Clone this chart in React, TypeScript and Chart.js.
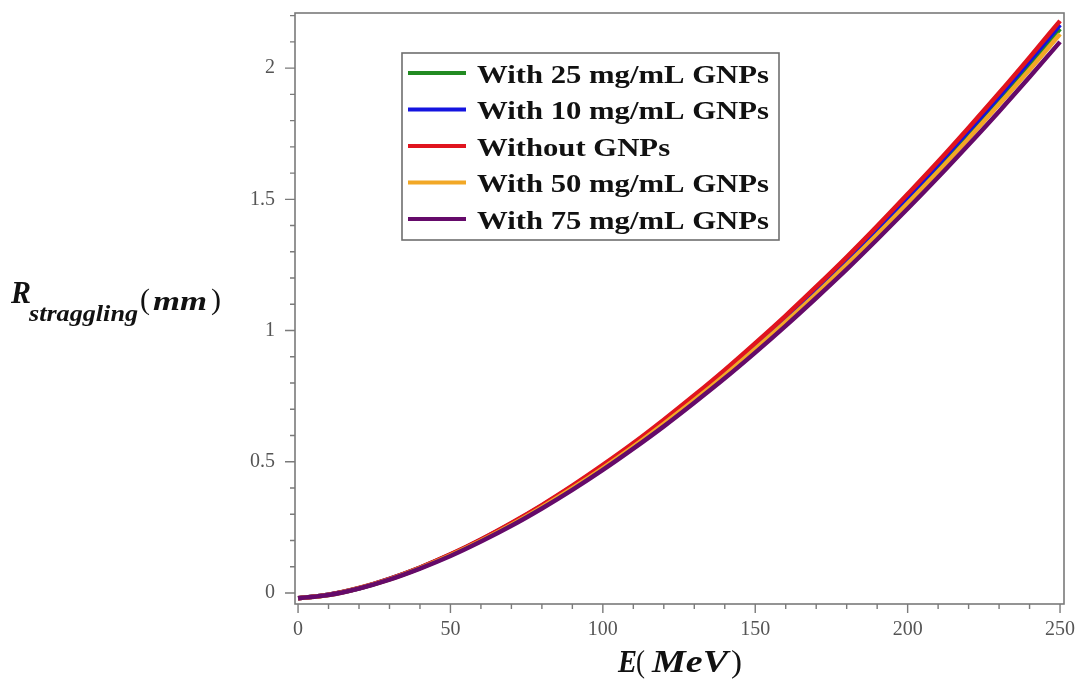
import React, { useEffect, useRef } from 'react';
import { Chart, registerables } from 'chart.js';

Chart.register(...registerables);

// Energy grid (MeV)
const energies = [0, 10, 20, 30, 40, 50, 60, 70, 80, 90, 100, 110, 120, 130, 140, 150, 160, 170, 180, 190, 200, 210, 220, 230, 240, 250];

// R_straggling (mm) for each medium
const with25 = [-0.020, -0.007, 0.018, 0.053, 0.096, 0.145, 0.201, 0.263, 0.330, 0.403, 0.481, 0.563, 0.651, 0.742, 0.838, 0.939, 1.043, 1.151, 1.263, 1.379, 1.499, 1.622, 1.749, 1.879, 2.013, 2.150];
const with10 = [-0.020, -0.007, 0.018, 0.054, 0.096, 0.146, 0.203, 0.265, 0.333, 0.406, 0.484, 0.567, 0.655, 0.748, 0.844, 0.945, 1.050, 1.159, 1.271, 1.389, 1.509, 1.633, 1.761, 1.892, 2.027, 2.165];
const without = [-0.020, -0.007, 0.019, 0.054, 0.097, 0.147, 0.204, 0.267, 0.335, 0.409, 0.488, 0.571, 0.660, 0.753, 0.850, 0.952, 1.057, 1.167, 1.280, 1.398, 1.520, 1.644, 1.773, 1.905, 2.041, 2.180];
const with50 = [-0.020, -0.008, 0.018, 0.052, 0.095, 0.144, 0.199, 0.260, 0.327, 0.399, 0.476, 0.558, 0.645, 0.735, 0.830, 0.930, 1.033, 1.140, 1.251, 1.366, 1.485, 1.606, 1.732, 1.862, 1.994, 2.130];
const with75 = [-0.020, -0.008, 0.017, 0.051, 0.093, 0.141, 0.196, 0.256, 0.322, 0.393, 0.469, 0.550, 0.635, 0.725, 0.818, 0.916, 1.018, 1.124, 1.233, 1.347, 1.464, 1.584, 1.708, 1.835, 1.966, 2.100];

const seriesLabels = ['With 25 mg/mL GNPs', 'With 10 mg/mL GNPs', 'Without GNPs', 'With 50 mg/mL GNPs', 'With 75 mg/mL GNPs'];
const seriesValues = [with25, with10, without, with50, with75];
const seriesColors = ['#228b22', '#1414e0', '#e0141e', '#f2a826', '#650a6a'];
const seriesOrder = [5, 4, 3, 2, 1];

// Axis ticks
const xMajorTicks = [0, 50, 100, 150, 200, 250];
const xMinorTicks = [10, 20, 30, 40, 60, 70, 80, 90, 110, 120, 130, 140, 160, 170, 180, 190, 210, 220, 230, 240];
const yMajorTicks = [0, 0.5, 1, 1.5, 2];
const yMinorTicks = [0.1, 0.2, 0.3, 0.4, 0.6, 0.7, 0.8, 0.9, 1.1, 1.2, 1.3, 1.4, 1.6, 1.7, 1.8, 1.9, 2.1, 2.2];

const AXIS_COLOR = '#7a7a7a';
const SERIF = '"Liberation Serif", "Times New Roman", serif';

function drawFitted(ctx: CanvasRenderingContext2D, text: string, x: number, y: number, font: string, width?: number) {
  ctx.save();
  ctx.font = font;
  const w = ctx.measureText(text).width;
  ctx.translate(x, y);
  if (width) ctx.scale(width / w, 1);
  ctx.fillText(text, 0, 0);
  ctx.restore();
}

const decorPlugin = {
  id: 'decor',
  afterDraw(chart: any) {
    const ctx: CanvasRenderingContext2D = chart.ctx;
    const area = chart.chartArea;
    const xs = chart.scales.x;
    const ys = chart.scales.y;
    ctx.save();
    // frame
    ctx.strokeStyle = AXIS_COLOR;
    ctx.lineWidth = 1.6;
    ctx.strokeRect(area.left, area.top, area.right - area.left, area.bottom - area.top);
    // ticks
    ctx.lineWidth = 1.4;
    ctx.beginPath();
    xMajorTicks.forEach((v) => {
      const px = xs.getPixelForValue(v);
      ctx.moveTo(px, area.bottom);
      ctx.lineTo(px, area.bottom + 9);
    });
    xMinorTicks.forEach((v) => {
      const px = xs.getPixelForValue(v);
      ctx.moveTo(px, area.bottom);
      ctx.lineTo(px, area.bottom + 5);
    });
    yMajorTicks.forEach((v) => {
      const py = ys.getPixelForValue(v);
      ctx.moveTo(area.left, py);
      ctx.lineTo(area.left - 10, py);
    });
    yMinorTicks.forEach((v) => {
      const py = ys.getPixelForValue(v);
      ctx.moveTo(area.left, py);
      ctx.lineTo(area.left - 5, py);
    });
    ctx.stroke();

    // axis titles
    ctx.fillStyle = '#111';
    ctx.textBaseline = 'alphabetic';
    ctx.textAlign = 'left';
    // x title: E( MeV)
    drawFitted(ctx, 'E', 618, 672, `bold italic 32px ${SERIF}`, 19);
    drawFitted(ctx, '(', 636, 672, `32px ${SERIF}`, 9);
    drawFitted(ctx, 'MeV', 652, 672, `bold italic 32px ${SERIF}`, 76);
    drawFitted(ctx, ')', 731, 672, `32px ${SERIF}`, 11);
    // y title: R_straggling( mm)
    drawFitted(ctx, 'R', 11, 303, `bold italic 32px ${SERIF}`, 20);
    drawFitted(ctx, 'straggling', 29, 321, `bold italic 24px ${SERIF}`, 109);
    drawFitted(ctx, '(', 140, 309, `30px ${SERIF}`, 10);
    drawFitted(ctx, 'mm', 153, 310, `bold italic 28px ${SERIF}`, 54);
    drawFitted(ctx, ')', 211, 309, `30px ${SERIF}`, 10);

    // legend
    const boxL = 402, boxT = 53, boxR = 779, boxB = 240;
    ctx.fillStyle = '#ffffff';
    ctx.fillRect(boxL, boxT, boxR - boxL, boxB - boxT);
    ctx.strokeStyle = '#6e6e6e';
    ctx.lineWidth = 1.6;
    ctx.strokeRect(boxL, boxT, boxR - boxL, boxB - boxT);
    const legendFont = `bold 25px ${SERIF}`;
    ctx.font = legendFont;
    const sx = 292 / ctx.measureText(seriesLabels[0]).width;
    chart.data.datasets.forEach((ds: any, i: number) => {
      const yc = 73 + i * 36.5;
      ctx.strokeStyle = ds.borderColor;
      ctx.lineWidth = 4;
      ctx.beginPath();
      ctx.moveTo(408, yc);
      ctx.lineTo(466, yc);
      ctx.stroke();
      ctx.fillStyle = '#111';
      ctx.save();
      ctx.font = legendFont;
      ctx.translate(477, yc + 9.5);
      ctx.scale(sx, 1);
      ctx.fillText(ds.label, 0, 0);
      ctx.restore();
    });
    ctx.restore();
  },
};

export default function App() {
  const canvasRef = useRef<HTMLCanvasElement | null>(null);

  useEffect(() => {
    if (!canvasRef.current) return;
    const datasets = seriesLabels.map((label, i) => ({
      label,
      data: energies.map((e, j) => ({ x: e, y: seriesValues[i][j] })),
      borderColor: seriesColors[i],
      backgroundColor: seriesColors[i],
      borderWidth: 4.5,
      pointRadius: 0,
      fill: false,
      cubicInterpolationMode: 'monotone' as const,
      order: seriesOrder[i],
    }));
    const chart = new Chart(canvasRef.current, {
      type: 'line',
      data: { datasets },
      options: {
        animation: false,
        responsive: true,
        maintainAspectRatio: false,
        layout: { autoPadding: false, padding: { left: 0, top: 13, right: 19, bottom: 0 } },
        plugins: {
          legend: { display: false },
          tooltip: { enabled: false },
        },
        scales: {
          x: {
            type: 'linear',
            min: -1,
            max: 251.3,
            grid: { display: false, drawTicks: false },
            border: { display: false },
            afterBuildTicks: (scale: any) => {
              scale.ticks = xMajorTicks.map((v) => ({ value: v }));
            },
            afterFit: (scale: any) => {
              scale.height = 76;
              scale.paddingLeft = 0;
              scale.paddingRight = 0;
              scale.paddingTop = 0;
              scale.paddingBottom = 0;
            },
            ticks: {
              padding: 14,
              color: '#555',
              font: { family: SERIF, size: 20 },
              maxRotation: 0,
              callback: (v: any) => String(v),
            },
          },
          y: {
            type: 'linear',
            min: -0.042,
            max: 2.21,
            grid: { display: false, drawTicks: false },
            border: { display: false },
            afterBuildTicks: (scale: any) => {
              scale.ticks = yMajorTicks.map((v) => ({ value: v }));
            },
            afterFit: (scale: any) => {
              scale.width = 295;
              scale.paddingLeft = 0;
              scale.paddingRight = 0;
              scale.paddingTop = 0;
              scale.paddingBottom = 0;
            },
            ticks: {
              padding: 20,
              color: '#555',
              font: { family: SERIF, size: 20 },
              callback: (v: any) => String(v),
            },
          },
        },
      },
      plugins: [decorPlugin],
    });
    return () => chart.destroy();
  }, []);

  return (
    <div style={{ position: 'absolute', left: 0, top: 0, width: 1083, height: 680, background: '#fff' }}>
      <canvas ref={canvasRef} />
    </div>
  );
}
